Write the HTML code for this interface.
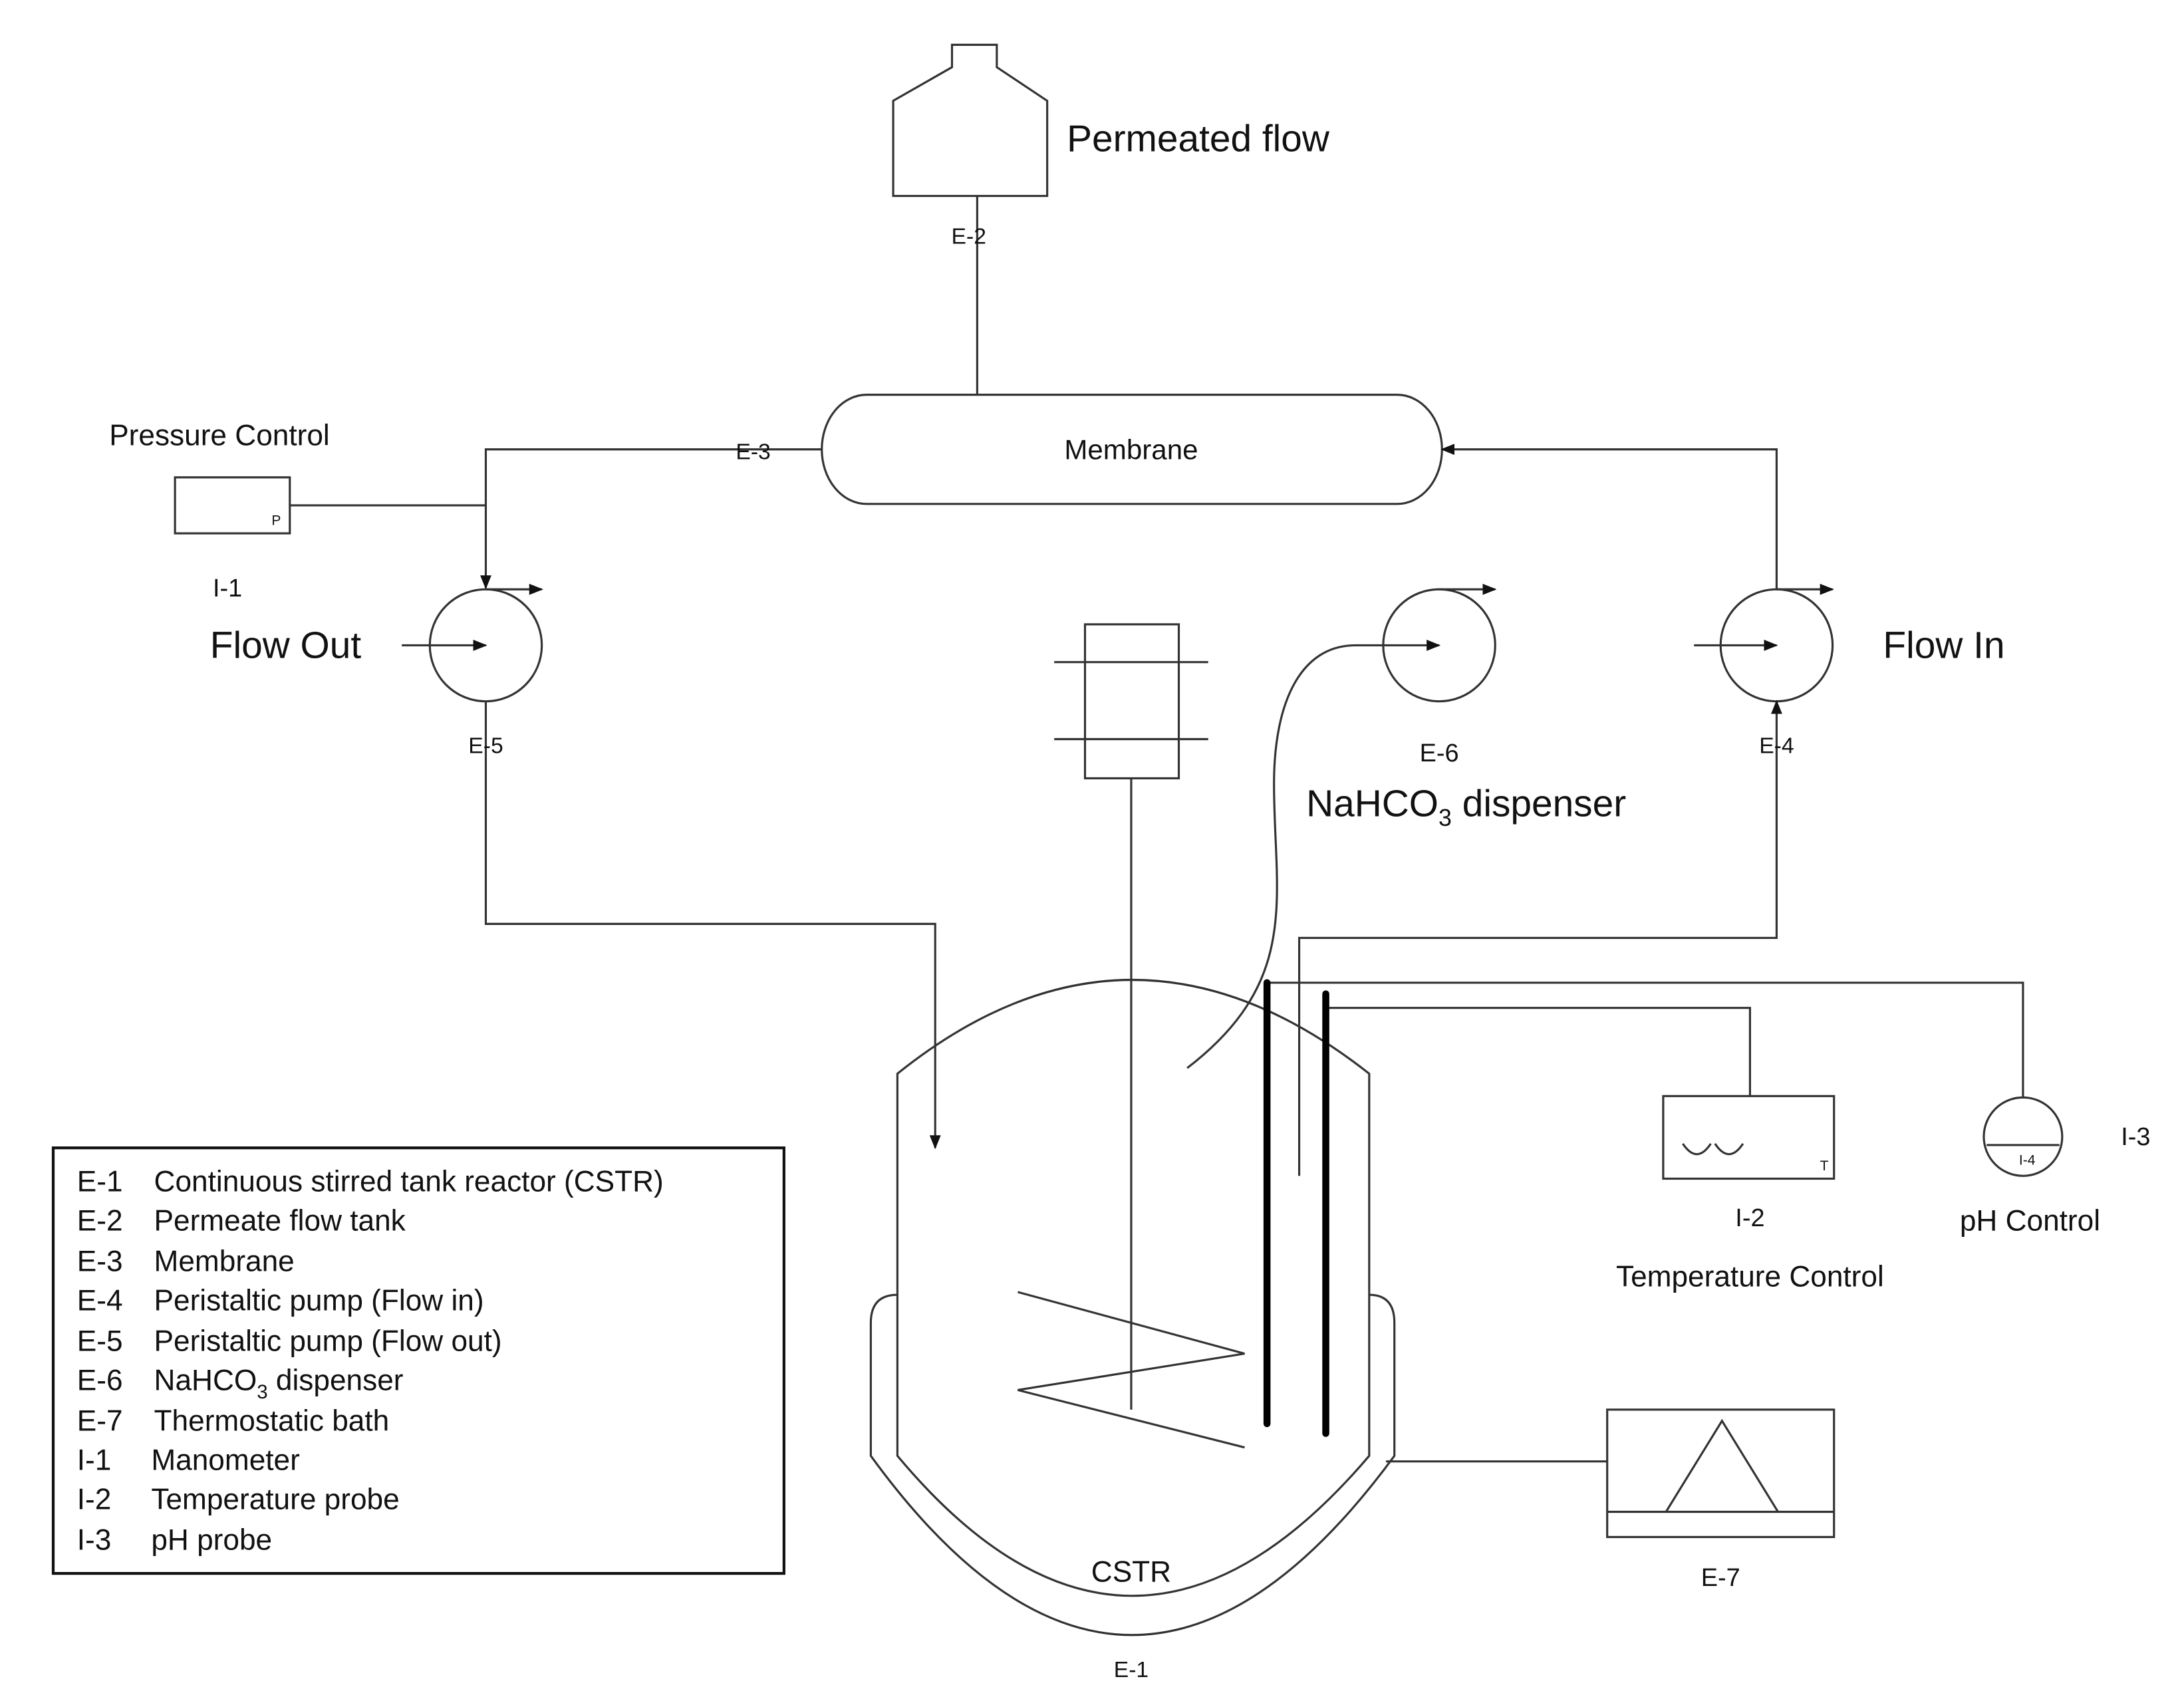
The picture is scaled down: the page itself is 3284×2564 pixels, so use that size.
<!DOCTYPE html>
<html><head><meta charset="utf-8"><style>
html,body{margin:0;padding:0;background:#fff;}
svg{display:block;}
text{font-family:"Liberation Sans",Arial,sans-serif;fill:#111;}
</style></head><body>
<svg width="3284" height="2564" viewBox="0 0 1560 1218" preserveAspectRatio="none" xmlns="http://www.w3.org/2000/svg">
<defs>
<marker id="ah" markerWidth="10" markerHeight="10" refX="9" refY="5" orient="auto" markerUnits="userSpaceOnUse">
<path d="M0,1 L10,5 L0,9 Z" fill="#111"/></marker>
</defs>
<g fill="none" stroke="#333" stroke-width="1.5">
<path d="M638,140 L638,72 L680,48 L680,32 L712,32 L712,48 L748,72 L748,140 Z"/>
<line x1="698" y1="140" x2="698" y2="282"/>
<rect x="587" y="282" width="443" height="78" rx="32" ry="39"/>
<polyline points="587,321 347,321 347,420" marker-end="url(#ah)"/>
<rect x="125" y="341" width="82" height="40"/>
<line x1="207" y1="361" x2="347" y2="361"/>
<circle cx="347" cy="461" r="40"/>
<line x1="287" y1="461" x2="347" y2="461" marker-end="url(#ah)"/>
<line x1="347" y1="421" x2="387" y2="421" marker-end="url(#ah)"/>
<polyline points="347,501 347,660 668,660 668,820" marker-end="url(#ah)"/>
<circle cx="1269" cy="461" r="40"/>
<line x1="1210" y1="461" x2="1269" y2="461" marker-end="url(#ah)"/>
<line x1="1269" y1="421" x2="1309" y2="421" marker-end="url(#ah)"/>
<polyline points="1269,421 1269,321 1030,321" marker-end="url(#ah)"/>
<polyline points="928,840 928,670 1269,670 1269,501" marker-end="url(#ah)"/>
<circle cx="1028" cy="461" r="40"/>
<line x1="1028" y1="421" x2="1068" y2="421" marker-end="url(#ah)"/>
<path d="M848,763 C930,700 910,640 910,560 C910,500 930,461 968,461 L1028,461" marker-end="url(#ah)"/>
<rect x="775" y="446" width="67" height="110"/>
<line x1="753" y1="473" x2="863" y2="473"/>
<line x1="753" y1="528" x2="863" y2="528"/>
<line x1="808" y1="556" x2="808" y2="1007"/>
<polyline points="727,923 889,967 727,993 889,1034"/>
<path d="M641,767 Q808,633 978,767 L978,1040 Q808,1240 641,1040 Z"/>
<path d="M641,925 Q622,925 622,945 L622,1040 Q808,1296 996,1040 L996,945 Q996,925 978,925"/>
<polyline points="905,702 1445,702 1445,784"/>
<polyline points="947,720 1250,720 1250,783"/>
<rect x="1188" y="783" width="122" height="59"/>
<path d="M1202,817 Q1212,832 1222,817 M1225,817 Q1235,832 1245,817"/>
<circle cx="1445" cy="812" r="28"/>
<line x1="1419" y1="818" x2="1471" y2="818"/>
<rect x="1148" y="1007" width="162" height="91"/>
<line x1="1148" y1="1080" x2="1310" y2="1080"/>
<polyline points="1190,1080 1230,1015 1270,1080"/>
<line x1="990" y1="1044" x2="1148" y2="1044"/>
<rect x="38" y="820" width="522" height="304" stroke="#111" stroke-width="2"/>
</g>
<g stroke="#000" stroke-width="5" stroke-linecap="round">
<line x1="905" y1="702" x2="905" y2="1017"/>
<line x1="947" y1="710" x2="947" y2="1024"/>
</g>
<text x="762" y="108" font-size="27">Permeated flow</text>
<text x="692" y="174" font-size="16" text-anchor="middle">E-2</text>
<text x="808" y="328" font-size="20" text-anchor="middle">Membrane</text>
<text x="538" y="328" font-size="16" text-anchor="middle">E-3</text>
<text x="78" y="318" font-size="21">Pressure Control</text>
<text x="194" y="375" font-size="10">P</text>
<text x="152" y="426" font-size="18">I-1</text>
<text x="150" y="470" font-size="27">Flow Out</text>
<text x="347" y="538" font-size="16" text-anchor="middle">E-5</text>
<text x="1345" y="470" font-size="27">Flow In</text>
<text x="1269" y="538" font-size="16" text-anchor="middle">E-4</text>
<text x="1028" y="544" font-size="18" text-anchor="middle">E-6</text>
<text x="933" y="583" font-size="27">NaHCO<tspan font-size="17" dy="7">3</tspan><tspan dy="-7"> dispenser</tspan></text>
<text x="1300" y="836" font-size="10">T</text>
<text x="1250" y="876" font-size="18" text-anchor="middle">I-2</text>
<text x="1250" y="919" font-size="21" text-anchor="middle">Temperature Control</text>
<text x="1448" y="832" font-size="10" text-anchor="middle">I-4</text>
<text x="1515" y="818" font-size="18">I-3</text>
<text x="1450" y="879" font-size="21" text-anchor="middle">pH Control</text>
<text x="1229" y="1133" font-size="18" text-anchor="middle">E-7</text>
<text x="808" y="1130" font-size="21" text-anchor="middle">CSTR</text>
<text x="808" y="1198" font-size="16" text-anchor="middle">E-1</text>
<g font-size="21">
<text x="55" y="851">E-1</text><text x="110" y="851">Continuous stirred tank reactor (CSTR)</text>
<text x="55" y="879">E-2</text><text x="110" y="879">Permeate flow tank</text>
<text x="55" y="908">E-3</text><text x="110" y="908">Membrane</text>
<text x="55" y="936">E-4</text><text x="110" y="936">Peristaltic pump  (Flow in)</text>
<text x="55" y="965">E-5</text><text x="110" y="965">Peristaltic pump  (Flow out)</text>
<text x="55" y="993">E-6</text><text x="110" y="993">NaHCO<tspan font-size="14" dy="6">3</tspan><tspan dy="-6"> dispenser</tspan></text>
<text x="55" y="1022">E-7</text><text x="110" y="1022">Thermostatic bath</text>
<text x="55" y="1050">I-1</text><text x="108" y="1050">Manometer</text>
<text x="55" y="1078">I-2</text><text x="108" y="1078">Temperature probe</text>
<text x="55" y="1107">I-3</text><text x="108" y="1107">pH probe</text>
</g>
</svg>
</body></html>
